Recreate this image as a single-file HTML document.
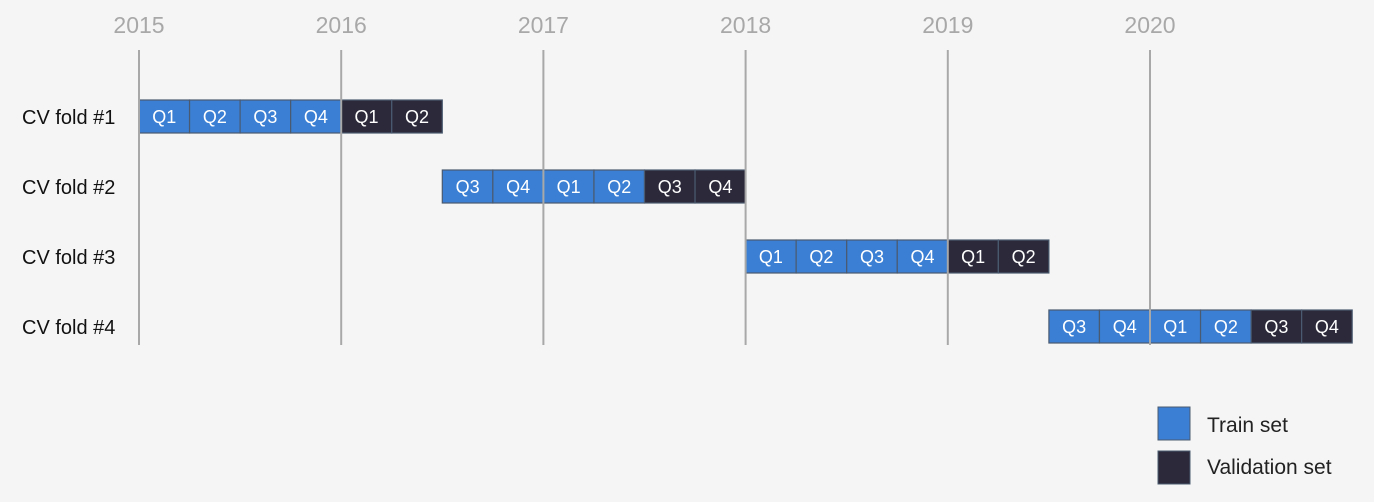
<!DOCTYPE html>
<html><head><meta charset="utf-8"><style>
html,body{margin:0;padding:0;background:#f5f5f5;}
svg{display:block;font-family:"Source Sans Pro","Liberation Sans",sans-serif;}
</style></head><body>
<svg id="chart" width="1374" height="502" viewBox="0 0 1374 502">
<rect width="1374" height="502" fill="#f5f5f5"/>
<g id="grid"></g>
<g id="bars"></g>
<g id="labels"></g>
<g>
<rect x="1158" y="407" width="32" height="33" fill="#3a7fd3" stroke="#4a5a70" stroke-width="1"/>
<text x="1207" y="432" font-size="21" fill="#222">Train set</text>
<rect x="1158" y="451" width="32" height="33" fill="#2c2a3a" stroke="#4a5a70" stroke-width="1"/>
<text x="1207" y="474" font-size="21" fill="#222">Validation set</text>
</g>
</svg>
<script>
const years = [2015, 2016, 2017, 2018, 2019, 2020];
const folds = ["CV fold #1", "CV fold #2", "CV fold #3", "CV fold #4"];
const foldStartQuarter = [0, 6, 12, 18];
const trainQuarters = [4, 4, 4, 4];
const validQuarters = [2, 2, 2, 2];
const NS = "http://www.w3.org/2000/svg";
const x0 = 139, yearW = 202.2, qW = yearW / 4;
const xYear = y => x0 + (y - years[0]) * yearW;
const xQ = q => x0 + q * qW;
const rowY = i => 100 + i * 70;
function mk(tag, attrs, parent){const e=document.createElementNS(NS,tag);for(const k in attrs)e.setAttribute(k,attrs[k]);parent.appendChild(e);return e;}
const grid=document.getElementById('grid'), bars=document.getElementById('bars'), labels=document.getElementById('labels');
years.forEach(y=>{
  const x=xYear(y);
  const t=mk('text',{x:x,y:33,'font-size':23,fill:'#a8a8a8','text-anchor':'middle'},labels);
  t.textContent=y;
  
  
});
folds.forEach((f,i)=>{
  const y=rowY(i);
  const t=mk('text',{x:22,y:y+24,'font-size':20,fill:'#111'},labels);
  t.textContent=f;
  
  
  const n=trainQuarters[i]+validQuarters[i];
  for(let k=0;k<n;k++){
    const q=foldStartQuarter[i]+k;
    const isTrain=k<trainQuarters[i];
    const r=mk('rect',{x:xQ(q),y:y,width:qW,height:33,fill:isTrain?'#3a7fd3':'#2c2a3a',stroke:'#4a5a70','stroke-width':1.2},bars);
    
    
    const tx=mk('text',{x:xQ(q)+qW/2,y:y+23,'font-size':18,fill:'#fff','text-anchor':'middle'},bars);
    tx.textContent='Q'+(q%4+1);
    
    
  }
});
years.forEach(y=>{
  const x=xYear(y);
  const l=mk('line',{x1:x,x2:x,y1:50,y2:345,stroke:'#a8a8a8','stroke-width':2},grid.parentNode);
  
  
});
</script>
</body></html>
